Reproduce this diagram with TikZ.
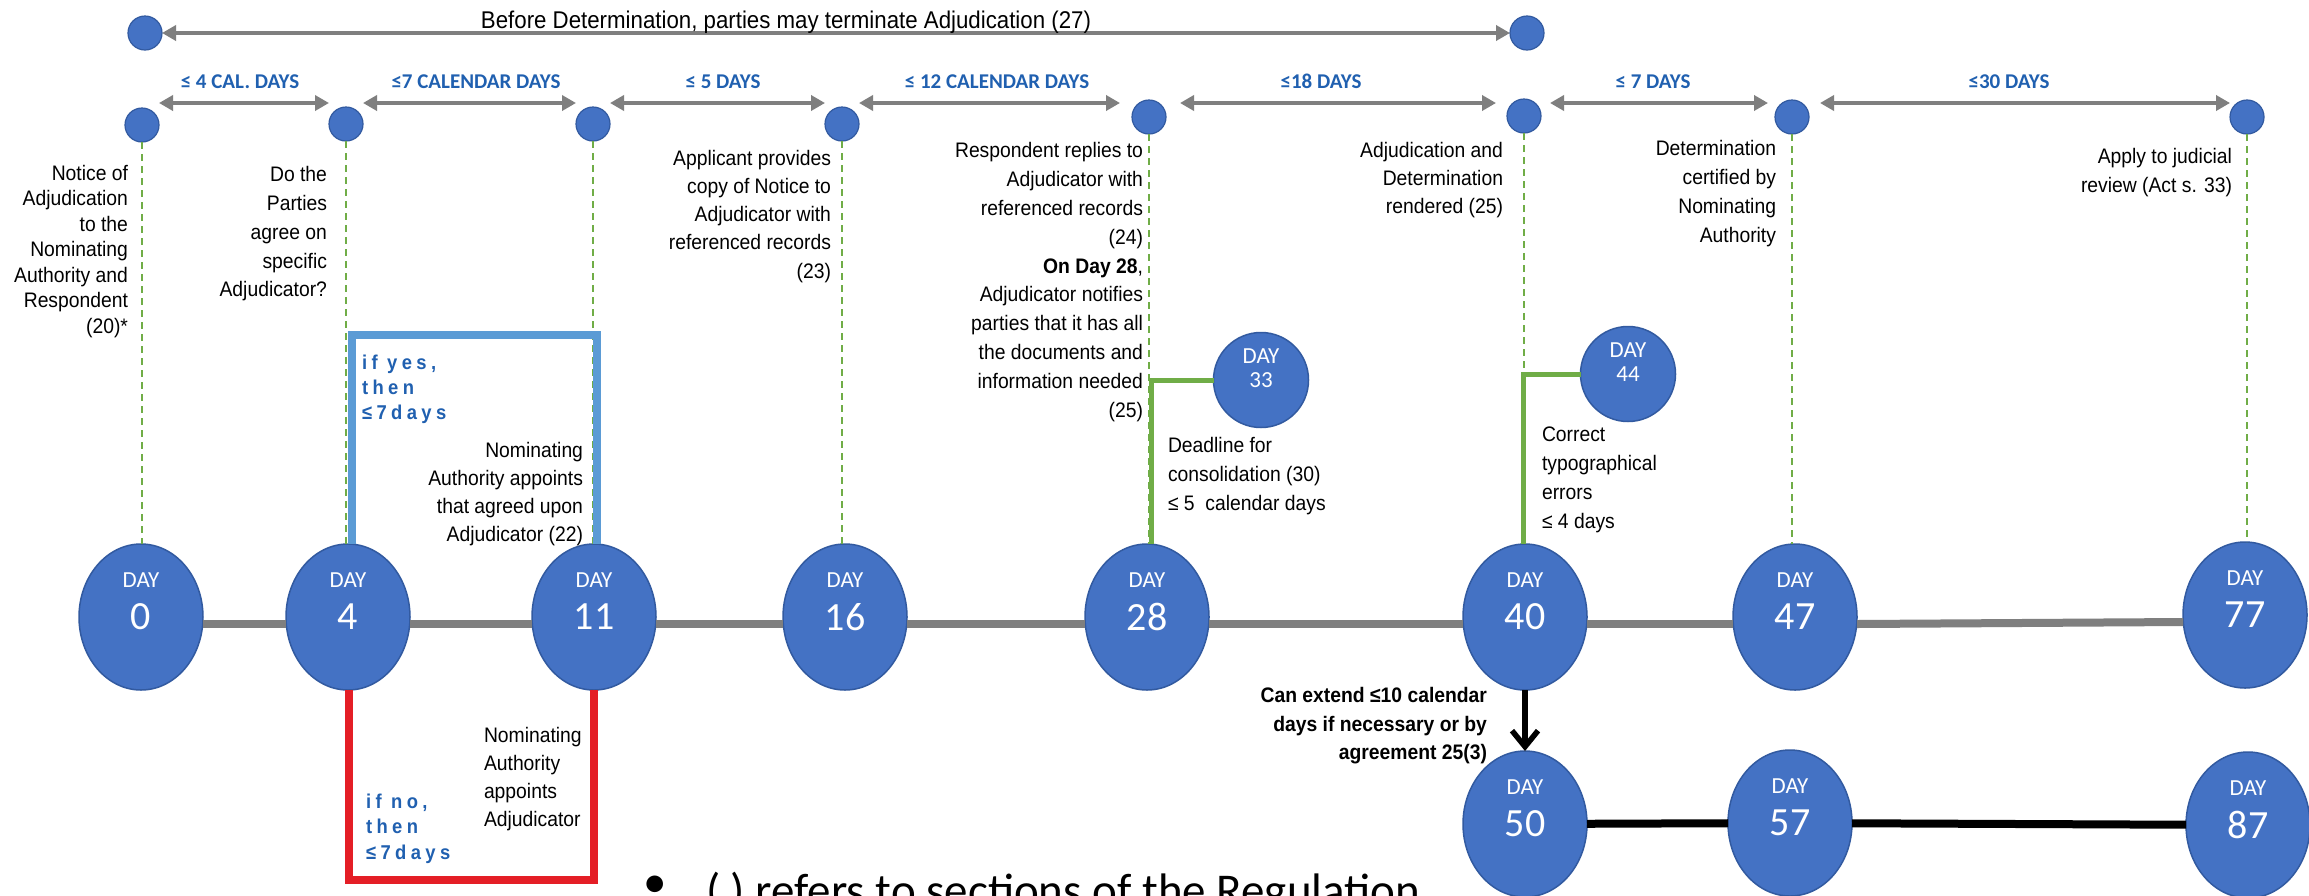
\documentclass[tikz,border=0pt]{standalone}
\usepackage{fontspec}
\usetikzlibrary{shapes.geometric,arrows.meta,calc}
\newfontfamily\nf{Liberation Sans}[FakeStretch=0.92]
\newfontfamily\nfs{Liberation Sans}[FakeStretch=0.92, LetterSpace=22]
\newfontfamily\cf{Carlito}
\definecolor{dayblue}{RGB}{68,114,196}
\definecolor{dayedge}{RGB}{50,90,160}
\definecolor{arrgray}{RGB}{127,127,127}
\definecolor{lblblue}{RGB}{32,96,176}
\definecolor{dgreen}{RGB}{112,173,71}
\definecolor{boxblue}{RGB}{91,155,213}
\definecolor{boxred}{RGB}{228,30,38}
\tikzset{
  every node/.style={inner sep=0pt, outer sep=0pt},
  dot/.style={circle, fill=dayblue, draw=dayedge, line width=1.2pt, minimum size=34pt},
  bigday/.style={ellipse, fill=dayblue, draw=dayedge, line width=1.5pt, minimum width=124pt, minimum height=146pt, text=white, font=\cf\fontsize{40}{40}\selectfont},
  smallday/.style={circle, fill=dayblue, draw=dayedge, line width=1.5pt, minimum size=95pt, text=white, font=\cf\fontsize{23}{23}\selectfont},
  daylbl/.style={text=white, font=\cf\fontsize{23}{23}\selectfont},
  span/.style={draw=arrgray, line width=3.5pt, {Triangle[length=14pt,width=15pt]}-{Triangle[length=14pt,width=15pt]}},
  spanlbl/.style={anchor=base, text=lblblue, font=\cf\bfseries\fontsize{21}{21}\selectfont},
  guide/.style={draw=dgreen, line width=1.8pt, dash pattern=on 7pt off 5pt},
  timeline/.style={draw=arrgray, line width=8pt},
  ext/.style={draw=black, line width=8pt},
  greenlink/.style={draw=dgreen, line width=5pt},
  rnote/.style={anchor=north east, align=right, font=\nf\fontsize{21}{#1}\selectfont},
  rnoteb/.style={anchor=north east, align=right, font=\nf\bfseries\fontsize{21}{#1}\selectfont},
  lnote/.style={anchor=north west, align=left, font=\nf\fontsize{21}{#1}\selectfont},
  choice/.style={anchor=north west, align=left, text=lblblue, font=\nfs\bfseries\fontsize{20}{#1}\selectfont}
}
\newcommand\bigday[4]{\node[bigday] (#1) at (#2,#3) {#4};\node[daylbl] (#1l) at ($(#1.center)+(0,-37)$) {DAY};}
\begin{document}
\begin{tikzpicture}[x=1pt,y=-1pt]
\path[use as bounding box] (0,0) rectangle (2309,895);
\fill[white] (0,0) rectangle (2309,895);
\clip (0,0) rectangle (2309,895);

% top row
\node[dot] (ta) at (145,33) {};
\node[dot] (tb) at (1527,33) {};
\draw[span] (ta) -- (tb);
\node[anchor=base, font=\nf\fontsize{24.2}{25}\selectfont] (toptxt) at (786,28) {Before Determination, parties may terminate Adjudication (27)};

% second row dots
\foreach \n/\x/\y in {0/142/125, 4/346/124, 11/593/124, 16/842/124, 28/1149/117, 40/1524/116, 47/1792/117, 77/2247/117}
  \node[dot] (d\n) at (\x,\y) {};
\coordinate (arow) at (0,103);
\draw[span] (d0.east |- arow) -- (d4.west |- arow);
\draw[span] (d4.east |- arow) -- (d11.west |- arow);
\draw[span] (d11.east |- arow) -- (d16.west |- arow);
\draw[span, shorten >=12pt] (d16.east |- arow) -- (d28.west |- arow);
\draw[span, shorten <=14pt, shorten >=11pt] (d28.east |- arow) -- (d40.west |- arow);
\draw[span, shorten <=9pt, shorten >=7pt] (d40.east |- arow) -- (d47.west |- arow);
\draw[span, shorten <=11pt] (d47.east |- arow) -- (d77.west |- arow);
\node[spanlbl] (l1) at (240,88) {≤ 4 CAL. DAYS};
\node[spanlbl] (l2) at (476,88) {≤7 CALENDAR DAYS};
\node[spanlbl] (l3) at (723,88) {≤ 5 DAYS};
\node[spanlbl] (l4) at (997,88) {≤ 12 CALENDAR DAYS};
\node[spanlbl] (l5) at (1321,88) {≤18 DAYS};
\node[spanlbl] (l6) at (1653,88) {≤ 7 DAYS};
\node[spanlbl] (l7) at (2009,88) {≤30 DAYS};

% big day ellipses
\bigday{D0}{141}{617}{0}
\bigday{D4}{348}{617}{4}
\bigday{D11}{594}{617}{11}
\bigday{D16}{845}{617}{16}
\bigday{D28}{1147}{617}{28}
\bigday{D40}{1525}{617}{40}
\bigday{D47}{1795}{617}{47}
\bigday{D77}{2245}{615}{77}
\bigday{D50}{1525}{824}{50}
\bigday{D57}{1790}{823}{57}
\bigday{D87}{2248}{825}{87}

% dashed guides
\foreach \n in {0,4,11,16,28,40,47,77}
  \draw[guide] (d\n.south) -- (d\n.south |- D\n.north);

% timelines
\foreach \a/\b in {D0/D4, D4/D11, D11/D16, D16/D28, D28/D40, D40/D47, D47/D77}
  \draw[timeline] ($(\a.east)+(0,7)$) -- ($(\b.west)+(0,7)$);
\draw[ext] (D50) -- (D57);
\draw[ext] (D57) -- (D87);
\draw[line width=5.5pt, -{Straight Barb[length=16pt,width=26pt]}] (D40) -- (D50);

% yes / no boxes
\draw[boxblue, line width=8pt] ($(D4.north)+(4,0)$) |- ($(D11.north)+(3,-209)$) -- ($(D11.north)+(3,0)$);
\draw[boxred, line width=8pt] ($(D4.south)+(1,0)$) |- ($(D11.south)+(0,190)$) -- (D11.south);

% small day circles
\node[smallday] (D33) at (1261,380) {33};
\node[daylbl] (D33l) at ($(D33.center)+(0,-24)$) {DAY};
\node[smallday] (D44) at (1628,374) {44};
\node[daylbl] (D44l) at ($(D44.center)+(0,-24)$) {DAY};
\draw[greenlink] ($(D28.north)+(4,0)$) |- (D33.west);
\draw[greenlink] ($(D40.north)+(-2,0)$) |- (D44.west);

% texts
\node[rnote=25.5] (t0) at (128,162.2) {\strut Notice of\\Adjudication\\to the\\Nominating\\Authority and\\Respondent\\(20)*};
\node[rnote=28.7] (t4) at (327,161.9) {\strut Do the\\Parties\\agree on\\specific\\Adjudicator?};
\node[rnote=28.3] (t16) at (831,145.2) {\strut Applicant provides\\copy of Notice to\\Adjudicator with\\referenced records\\(23)};
\node[rnote=28.8] (t28) at (1143,137.8) {\strut Respondent replies to\\Adjudicator with\\referenced records\\(24)\\\textbf{On Day 28},\\Adjudicator notifies\\parties that it has all\\the documents and\\information needed\\(25)};
\node[rnote=28] (t40) at (1503,137.4) {\strut Adjudication and\\Determination\\rendered (25)};
\node[rnote=29] (t47) at (1776,134.7) {\strut Determination\\certified by\\Nominating\\Authority};
\node[rnote=29] (t77) at (2232,142.7) {\strut Apply to judicial\\review (Act s. 33)};
\node[lnote=29] (tdead) at (1168,431.7) {\strut Deadline for\\consolidation (30)\\≤ 5\ \ calendar days};
\node[lnote=29] (tcorr) at (1542,420.7) {\strut Correct\\typographical\\errors\\≤ 4 days};
\node[rnoteb=28.5] (text) at (1487,683) {\strut Can extend ≤10 calendar\\days if necessary or by\\agreement 25(3)};
\node[rnote=28.3] (tna) at (583,437.2) {\strut Nominating\\Authority appoints\\that agreed upon\\Adjudicator (22)};
\node[lnote=28] (tnb) at (484,722.4) {\strut Nominating\\Authority\\appoints\\Adjudicator};
\node[choice=25] (yes) at (362,351.5) {\strut if yes,\\then\\≤7days};
\node[choice=25.5] (no) at (366,790.2) {\strut if no,\\then\\≤7days};

% footnote
\node[anchor=base, font=\cf\fontsize{47}{47}\selectfont] (bul) at (655,897) {•};
\node[anchor=base west, font=\cf\fontsize{47}{47}\selectfont] (foot) at (706,906) {( ) refers to sections of the Regulation};
\end{tikzpicture}
\end{document}
